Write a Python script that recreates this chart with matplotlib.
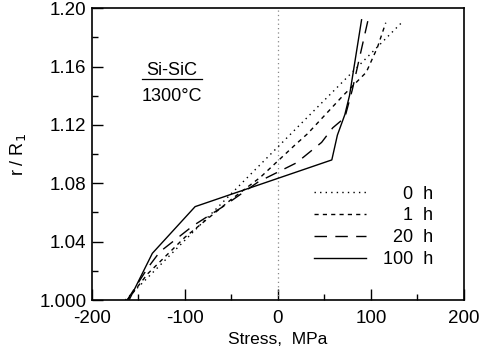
import matplotlib
matplotlib.use("Agg")
import matplotlib.pyplot as plt
from matplotlib.ticker import FixedLocator, FixedFormatter

plt.rcParams['font.family'] = ['Liberation Sans', 'DejaVu Sans']

# ---- data ----
hours = [0, 1, 20, 100]

stress_0h = [-164, 133]
r_0h = [1.000, 1.190]

stress_1h = [-162, -140, -100, -50, -19, 18, 32, 70, 95, 107, 116]
r_1h = [1.000, 1.018, 1.043, 1.069, 1.084, 1.106, 1.114, 1.140, 1.156, 1.173, 1.190]

stress_20h = [-162, -140, -127, -91, -59, -21, 20, 47, 59, 72, 80, 97]
r_20h = [1.000, 1.022, 1.033, 1.051, 1.064, 1.081, 1.094, 1.108, 1.118, 1.125, 1.144, 1.192]

stress_100h = [-160, -135, -89, 58, 64, 72, 77, 90]
r_100h = [1.000, 1.032, 1.064, 1.096, 1.113, 1.127, 1.140, 1.192]

xticks = [-200, -100, 0, 100, 200]
xtick_labels = ['-200', '-100', '0', '100', '200']
yticks = [1.00, 1.04, 1.08, 1.12, 1.16, 1.20]
ytick_labels = ['1.000', '1.04', '1.08', '1.12', '1.16', '1.20']

# ---- figure ----
fig = plt.figure(figsize=(4.94, 3.53), dpi=100)
ax = fig.add_axes([0.186, 0.150, 0.753, 0.827])

ax.axvline(0, color='#888888', lw=0.9, ls=(0, (1, 2.5)))

series = [(stress_0h, r_0h, (0, (1, 3))),
          (stress_1h, r_1h, (0, (3, 3))),
          (stress_20h, r_20h, (0, (9, 6))),
          (stress_100h, r_100h, '-')]
for h, (xs, ys, ls) in zip(hours, series):
    lab = f"{h:>3}".replace(' ', '\u2007') + '  h'
    ax.plot(xs, ys, color='black', lw=1.0, ls=ls, label=lab)

ax.set_xlim(-200, 200)
ax.set_ylim(1.0, 1.2)

ax.set_xticks(xticks)
ax.set_xticklabels(xtick_labels)
ax.xaxis.set_minor_locator(FixedLocator([-150, -50, 50, 150]))
ax.yaxis.set_major_locator(FixedLocator(yticks))
ax.yaxis.set_major_formatter(FixedFormatter(ytick_labels))
ax.yaxis.set_minor_locator(FixedLocator([1.02, 1.06, 1.10, 1.14, 1.18]))

ax.tick_params(axis='both', which='major', direction='in', length=8, width=1,
               labelsize=13.5, top=False, right=False)
ax.tick_params(axis='x', which='major', pad=7)
ax.tick_params(axis='y', which='major', pad=4)
ax.tick_params(axis='both', which='minor', direction='in', length=4, width=1,
               top=False, right=False)

for s in ax.spines.values():
    s.set_linewidth(1.2)

ax.set_xlabel('Stress,  MPa', fontsize=12.5, labelpad=4)
ax.set_ylabel('r / R$_1$', fontsize=13, labelpad=8)

# annotation
ax.text(0.215, 0.786, 'Si-SiC', transform=ax.transAxes, ha='center', va='center', fontsize=13)
ax.plot([0.134, 0.296], [0.756, 0.756], transform=ax.transAxes, color='black', lw=0.9)
ax.text(0.215, 0.696, '1300°C', transform=ax.transAxes, ha='center', va='center', fontsize=13)

ax.legend(loc='upper left', bbox_to_anchor=(0.597, 0.392), frameon=False,
          fontsize=13, handlelength=2.9, handletextpad=0.9, labelspacing=0.27,
          borderpad=0, borderaxespad=0)

fig.savefig('out.png', dpi=100)
